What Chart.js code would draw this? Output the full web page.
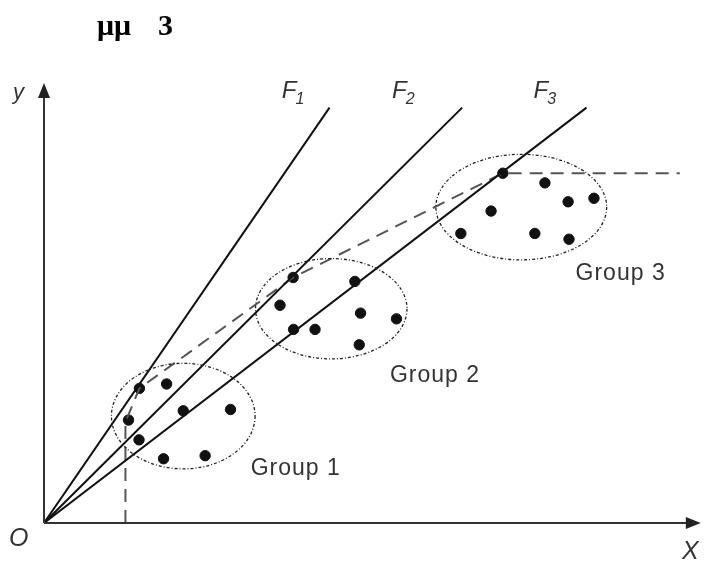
<!DOCTYPE html>
<html>
<head>
<meta charset="utf-8">
<script src="https://cdn.jsdelivr.net/npm/chart.js@4"></script>
<style>
  body { margin: 0; background: #fff; }
  canvas { display: block; }
</style>
</head>
<body>
<canvas id="chart" width="707" height="565"></canvas>
<script>
// points of each group (x, y in diagram units)
const group1X = [21.8, 28.0, 19.3, 21.7, 31.8, 42.6, 27.3, 36.8];
const group1Y = [30.6, 31.6, 23.4, 18.9, 25.5, 25.8, 14.6, 15.3];
const group2X = [56.9, 71.0, 53.9, 72.3, 80.5, 57.0, 61.9, 72.0];
const group2Y = [55.8, 54.9, 49.5, 47.7, 46.4, 44.0, 44.0, 40.5];
const group3X = [104.8, 114.4, 119.7, 125.6, 102.1, 95.2, 112.1, 119.9];
const group3Y = [79.5, 77.3, 73.0, 73.8, 70.9, 65.8, 65.8, 64.5];

// rays F1..F3 from the origin
const rayNames = ["1", "2", "3"];
const rayEndX = [65.2, 95.5, 123.9];
const rayEndY = [94.4, 94.4, 94.4];

// dashed frontier
const pathX = [18.6, 18.6, 21.8, 56.9, 104.8, 145.2];
const pathY = [0, 23, 30.6, 55.8, 79.5, 79.5];

// group outlines: centre and radii
const groupNames = ["Group 1", "Group 2", "Group 3"];
const ellCX = [31.8, 65.6, 109.0];
const ellCY = [24.3, 48.7, 71.8];
const ellRX = [16.4, 17.3, 19.5];
const ellRY = [12.0, 11.4, 12.0];
const groupLabelX = [47.2, 79.0, 121.4];
const groupLabelY = [10.9, 32.1, 55.2];
const rayLabelX = [54.3, 79.5, 111.8];
const rayLabelY = [96.6, 96.6, 96.6];

const pts = (xs, ys) => xs.map((x, i) => ({ x: x, y: ys[i] }));

const datasets = [];
rayEndX.forEach((x, i) => {
  datasets.push({
    type: "line",
    data: [{ x: 0, y: 0 }, { x: x, y: rayEndY[i] }],
    borderColor: "#111",
    borderWidth: 2,
    pointRadius: 0,
  });
});
datasets.push({
  type: "line",
  data: pts(pathX, pathY),
  borderColor: "#555",
  borderWidth: 2,
  borderDash: [13, 8],
  pointRadius: 0,
});
[[group1X, group1Y], [group2X, group2Y], [group3X, group3Y]].forEach((g) => {
  datasets.push({
    type: "scatter",
    data: pts(g[0], g[1]),
    backgroundColor: "#111",
    borderColor: "#111",
    pointRadius: 5.2,
  });
});

const drawing = {
  id: "drawing",
  afterDatasetsDraw(chart) {
    const ctx = chart.ctx;
    const xs = chart.scales.x;
    const ys = chart.scales.y;
    const px = (v) => xs.getPixelForValue(v);
    const py = (v) => ys.getPixelForValue(v);
    ctx.save();

    // group outlines
    ctx.strokeStyle = "#222";
    ctx.lineWidth = 1.3;
    ctx.setLineDash([3, 2, 1, 2]);
    ellCX.forEach((cx, i) => {
      ctx.beginPath();
      ctx.ellipse(px(cx), py(ellCY[i]), px(ellRX[i]) - px(0), py(0) - py(ellRY[i]), 0, 0, Math.PI * 2);
      ctx.stroke();
    });
    ctx.setLineDash([]);

    // axes with arrows
    const ox = px(0), oy = py(0);
    const xe = xs.right, yt = ys.top;
    ctx.strokeStyle = "#333";
    ctx.fillStyle = "#222";
    ctx.lineWidth = 2;
    ctx.beginPath();
    ctx.moveTo(ox, oy);
    ctx.lineTo(xe - 10, oy);
    ctx.moveTo(ox, oy);
    ctx.lineTo(ox, yt + 10);
    ctx.stroke();
    ctx.beginPath();
    ctx.moveTo(xe, oy);
    ctx.lineTo(xe - 15, oy - 6);
    ctx.lineTo(xe - 15, oy + 6);
    ctx.closePath();
    ctx.fill();
    ctx.beginPath();
    ctx.moveTo(ox, yt);
    ctx.lineTo(ox - 6, yt + 15);
    ctx.lineTo(ox + 6, yt + 15);
    ctx.closePath();
    ctx.fill();

    // axis letters
    ctx.fillStyle = "#333";
    ctx.textBaseline = "alphabetic";
    ctx.font = "italic 22px 'Liberation Sans', Arial, sans-serif";
    ctx.fillText("y", 13, 99);
    ctx.font = "italic 25px 'Liberation Sans', Arial, sans-serif";
    ctx.fillText("O", 9, 546);
    ctx.fillText("X", 682, 559);

    // ray labels
    rayNames.forEach((n, i) => {
      const lx = px(rayLabelX[i]), ly = py(rayLabelY[i]);
      ctx.font = "italic 24px 'Liberation Sans', Arial, sans-serif";
      ctx.fillText("F", lx, ly);
      const w = ctx.measureText("F").width;
      ctx.font = "italic 16px 'Liberation Sans', Arial, sans-serif";
      ctx.fillText(n, lx + w - 1, ly + 6);
    });

    // group labels
    ctx.font = "23px 'Liberation Sans', Arial, sans-serif";
    ctx.letterSpacing = "1px";
    groupNames.forEach((n, i) => {
      ctx.fillText(n, px(groupLabelX[i]), py(groupLabelY[i]));
    });
    ctx.letterSpacing = "0px";

    // title
    ctx.fillStyle = "#000";
    ctx.font = "bold 30px 'Liberation Serif', 'Times New Roman', serif";
    ctx.fillText("\u03bc\u03bc", 97, 35);
    ctx.fillText("3", 158, 35);
    ctx.restore();
  },
};

new Chart(document.getElementById("chart").getContext("2d"), {
  type: "scatter",
  data: { datasets: datasets },
  options: {
    responsive: false,
    animation: false,
    layout: { padding: { left: 44, right: 3, top: 83, bottom: 42 } },
    plugins: { legend: { display: false }, tooltip: { enabled: false } },
    scales: {
      x: { type: "linear", min: 0, max: 150, display: false },
      y: { type: "linear", min: 0, max: 100, display: false },
    },
  },
  plugins: [drawing],
});
</script>
</body>
</html>
